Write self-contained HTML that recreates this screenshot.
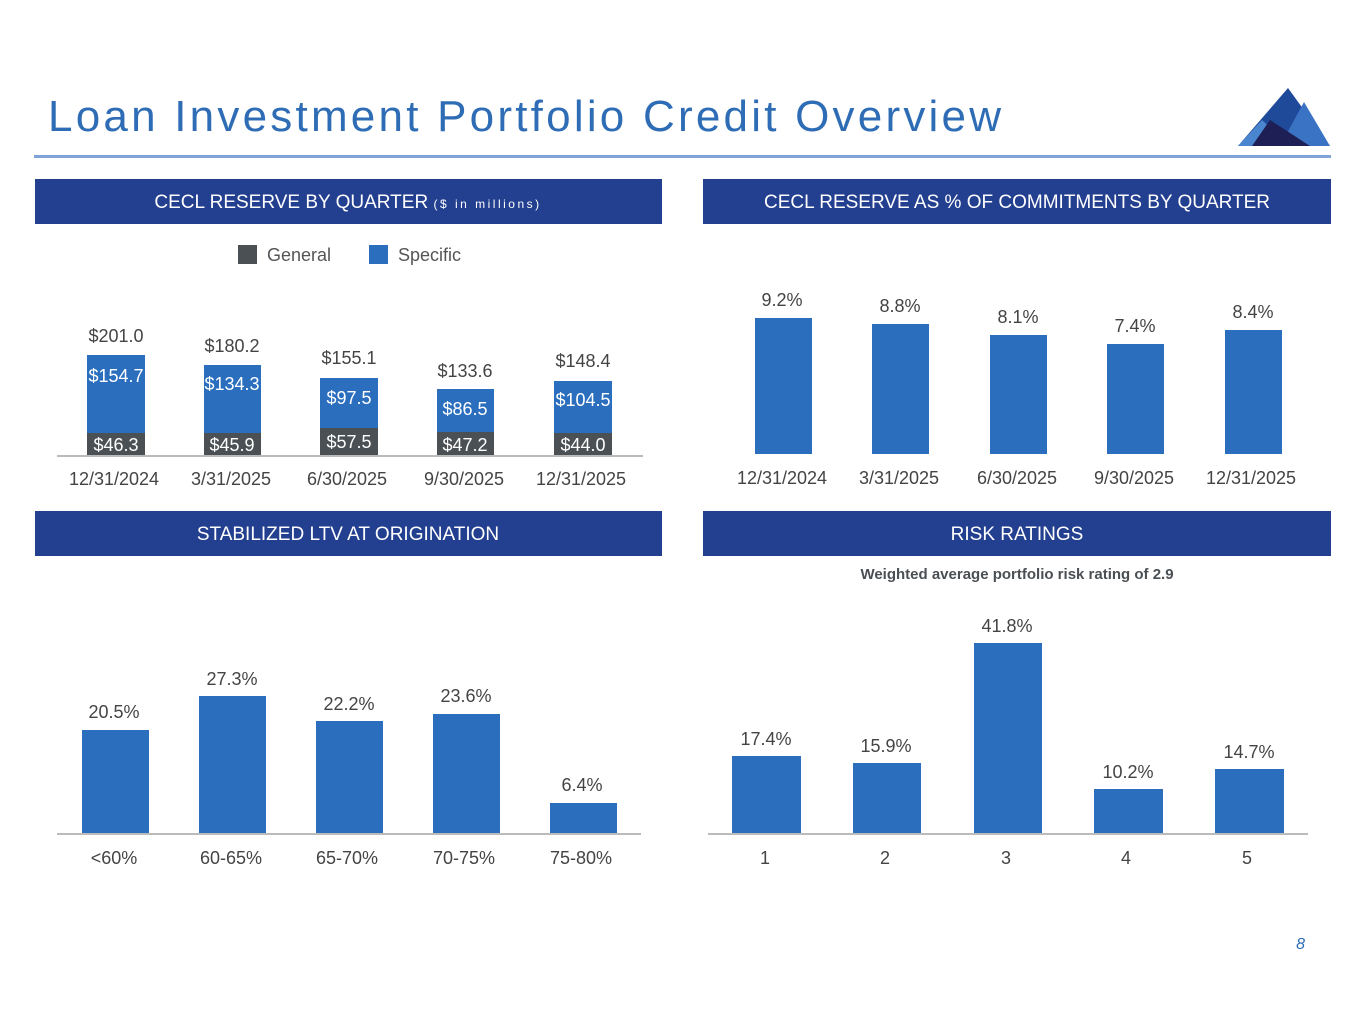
<!DOCTYPE html>
<html><head><meta charset="utf-8"><style>
html,body{margin:0;padding:0;background:#fff;width:1365px;height:1024px;overflow:hidden}
svg{display:block}
text{font-family:"Liberation Sans",sans-serif}
</style></head><body>
<svg width="1365" height="1024" viewBox="0 0 1365 1024">
<text x="48" y="131" font-size="44" fill="#2e6db5" textLength="953" lengthAdjust="spacing">Loan Investment Portfolio Credit Overview</text>
<rect x="34" y="155" width="1297" height="3" fill="#7fa3d6"/>
<!-- logo -->
<polygon points="1238,146 1288,88 1330,146" fill="#1f4a9a"/>
<polygon points="1304,102 1330,146 1280,146" fill="#3b73c4"/>
<polygon points="1238,146 1262,120 1290,146" fill="#4a86d0"/>
<polygon points="1252,146 1270,120 1310,146" fill="#1d1f55"/>

<g fill="#233f8f">
<rect x="35" y="179" width="627" height="45"/>
<rect x="703" y="179" width="628" height="45"/>
<rect x="35" y="511" width="627" height="45"/>
<rect x="703" y="511" width="628" height="45"/>
</g>
<g fill="#fff" font-size="19" text-anchor="middle">
<text x="348" y="208">CECL RESERVE BY QUARTER <tspan font-size="12" letter-spacing="2.5">($ in millions)</tspan></text>
<text x="1017" y="208">CECL RESERVE AS % OF COMMITMENTS BY QUARTER</text>
<text x="348" y="540">STABILIZED LTV AT ORIGINATION</text>
<text x="1017" y="540">RISK RATINGS</text>
</g>
<text x="1017" y="579" font-size="15" font-weight="bold" fill="#4a4f54" text-anchor="middle">Weighted average portfolio risk rating of 2.9</text>

<!-- legend -->
<rect x="238" y="245" width="19" height="19" fill="#4a5054"/>
<text x="267" y="261" font-size="18" fill="#555">General</text>
<rect x="369" y="245" width="19" height="19" fill="#2a6ebd"/>
<text x="398" y="261" font-size="18" fill="#555">Specific</text>

<!-- chart1 -->
<g fill="#2a6ebd">
<rect x="87" y="355" width="58" height="100"/>
<rect x="204" y="365" width="57" height="90"/>
<rect x="320" y="378" width="58" height="77"/>
<rect x="437" y="389" width="57" height="66"/>
<rect x="554" y="381" width="58" height="74"/>
</g>
<g fill="#4a5054">
<rect x="87" y="433" width="58" height="22"/>
<rect x="204" y="433" width="57" height="22"/>
<rect x="320" y="428" width="58" height="27"/>
<rect x="437" y="432" width="57" height="23"/>
<rect x="554" y="433" width="58" height="22"/>
</g>
<rect x="57" y="455" width="586" height="2" fill="#bbb"/>
<g font-size="18" text-anchor="middle" fill="#444">
<text x="116" y="342">$201.0</text><text x="232" y="352">$180.2</text><text x="349" y="364">$155.1</text><text x="465" y="377">$133.6</text><text x="583" y="367">$148.4</text>
</g>
<g font-size="18" text-anchor="middle" fill="#fff">
<text x="116" y="382">$154.7</text><text x="232" y="390">$134.3</text><text x="349" y="404">$97.5</text><text x="465" y="415">$86.5</text><text x="583" y="406">$104.5</text>
<text x="116" y="451">$46.3</text><text x="232" y="451">$45.9</text><text x="349" y="448">$57.5</text><text x="465" y="451">$47.2</text><text x="583" y="451">$44.0</text>
</g>
<g font-size="18" text-anchor="middle" fill="#444">
<text x="114" y="485">12/31/2024</text><text x="231" y="485">3/31/2025</text><text x="347" y="485">6/30/2025</text><text x="464" y="485">9/30/2025</text><text x="581" y="485">12/31/2025</text>
</g>

<!-- chart2 -->
<g fill="#2a6ebd">
<rect x="755" y="318" width="57" height="136"/>
<rect x="872" y="324" width="57" height="130"/>
<rect x="990" y="335" width="57" height="119"/>
<rect x="1107" y="344" width="57" height="110"/>
<rect x="1225" y="330" width="57" height="124"/>
</g>
<g font-size="18" text-anchor="middle" fill="#444">
<text x="782" y="306">9.2%</text><text x="900" y="312">8.8%</text><text x="1018" y="323">8.1%</text><text x="1135" y="332">7.4%</text><text x="1253" y="318">8.4%</text>
<text x="782" y="484">12/31/2024</text><text x="899" y="484">3/31/2025</text><text x="1017" y="484">6/30/2025</text><text x="1134" y="484">9/30/2025</text><text x="1251" y="484">12/31/2025</text>
</g>

<!-- chart3 -->
<g fill="#2a6ebd">
<rect x="82" y="730" width="67" height="104"/>
<rect x="199" y="696" width="67" height="138"/>
<rect x="316" y="721" width="67" height="113"/>
<rect x="433" y="714" width="67" height="120"/>
<rect x="550" y="803" width="67" height="31"/>
</g>
<rect x="57" y="833" width="584" height="2" fill="#bbb"/>
<g font-size="18" text-anchor="middle" fill="#444">
<text x="114" y="718">20.5%</text><text x="232" y="685">27.3%</text><text x="349" y="710">22.2%</text><text x="466" y="702">23.6%</text><text x="582" y="791">6.4%</text>
<text x="114" y="864">&lt;60%</text><text x="231" y="864">60-65%</text><text x="347" y="864">65-70%</text><text x="464" y="864">70-75%</text><text x="581" y="864">75-80%</text>
</g>

<!-- chart4 -->
<g fill="#2a6ebd">
<rect x="732" y="756" width="69" height="78"/>
<rect x="853" y="763" width="68" height="71"/>
<rect x="974" y="643" width="68" height="191"/>
<rect x="1094" y="789" width="69" height="45"/>
<rect x="1215" y="769" width="69" height="65"/>
</g>
<rect x="708" y="833" width="600" height="2" fill="#bbb"/>
<g font-size="18" text-anchor="middle" fill="#444">
<text x="766" y="745">17.4%</text><text x="886" y="752">15.9%</text><text x="1007" y="632">41.8%</text><text x="1128" y="778">10.2%</text><text x="1249" y="758">14.7%</text>
<text x="765" y="864">1</text><text x="885" y="864">2</text><text x="1006" y="864">3</text><text x="1126" y="864">4</text><text x="1247" y="864">5</text>
</g>

<text x="1305" y="949" font-size="16" font-style="italic" fill="#2e6db5" text-anchor="end">8</text>
</svg>
</body></html>
